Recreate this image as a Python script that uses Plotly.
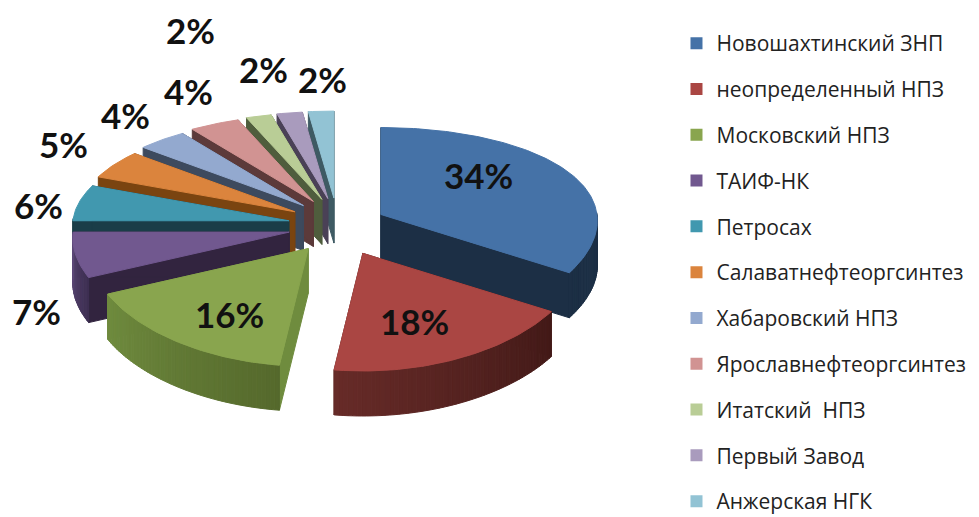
import math
import plotly.graph_objects as go

NAMES = ["Новошахтинский ЗНП", "неопределенный НПЗ", "Московский НПЗ", "ТАИФ-НК", "Петросах",
         "Салаватнефтеоргсинтез", "Хабаровский НПЗ", "Ярославнефтеоргсинтез", "Итатский  НПЗ",
         "Первый Завод", "Анжерская НГК"]
VALUES = [34, 18, 16, 7, 6, 5, 4, 4, 2, 2, 2]

TOP = ["#4572a7", "#aa4643", "#89a54e", "#71588f", "#4198af", "#db843d", "#93a9cf", "#d19392", "#b9cd96", "#a99bbd", "#92c3d4"]
CUT = ["#1c2f45", "#4f1e1b", "#6f8c3e", "#32243f", "#1a3d48", "#7a4410", "#3d4a5e", "#5c3a3a", "#4f5d3d", "#4a4156", "#3e5a63"]
OUT_A = ["#1c2f45", "#431a18", "#55692c", "#3d2f52", "#1a3d48", "#7a4410", "#3d4a5e", "#5c3a3a", "#4f5d3d", "#4a4156", "#3e5a63"]
OUT_B = ["#1c2f45", "#672b28", "#708c3f", "#5f4a7a", "#1a3d48", "#7a4410", "#3d4a5e", "#5c3a3a", "#4f5d3d", "#4a4156", "#3e5a63"]
ORDER = [10, 9, 8, 7, 6, 5, 4, 0, 3, 2, 1]
LABEL_XY = [(478, 175), (414, 321), (229, 314), (36, 311), (38, 205), (63, 144), (125, 115), (188, 91), (190, 30), (263, 69), (322, 79)]
NUDGE = {1: (5, 2), 0: (1, 2)}

CX, CY, EX, EY = 337, 226, 49, 28
A, B, PX, PY, DEPTH = 216, 100, 0.06, 0.15, 45
FIG_H = 535


def project(angle, ox, oy):
    u, v = math.sin(angle), math.cos(angle)
    return ox + A * u / (1 + PX * v), oy - B * v / (1 + PY * v)


def hexmix(c1, c2, t):
    a = [int(c1[i:i + 2], 16) for i in (1, 3, 5)]
    b = [int(c2[i:i + 2], 16) for i in (1, 3, 5)]
    return "#%02x%02x%02x" % tuple(round(p + (q - p) * t) for p, q in zip(a, b))


def poly(pts, color):
    return go.Scatter(x=[p[0] for p in pts] + [pts[0][0]], y=[p[1] for p in pts] + [pts[0][1]],
                      mode="lines", fill="toself", fillcolor=color, line=dict(color=color, width=1),
                      showlegend=False, hoverinfo="skip")


total = sum(VALUES)
bounds = [0]
for val in VALUES:
    bounds.append(bounds[-1] + val / total * 2 * math.pi)

fig = go.Figure()
for i in ORDER:
    a0, a1 = bounds[i], bounds[i + 1]
    mid = (a0 + a1) / 2
    nx, ny = NUDGE.get(i, (0, 0))
    ox, oy = CX + nx + EX * math.sin(mid), CY + ny - EY * math.cos(mid)
    n = max(3, int((a1 - a0) / 0.02))
    angles = [a0 + (a1 - a0) * k / n for k in range(n + 1)]
    down = lambda p: (p[0], p[1] + DEPTH)
    for ang in (a0, a1):
        e = project(ang, ox, oy)
        fig.add_trace(poly([(ox, oy), e, down(e), (ox, oy + DEPTH)], CUT[i]))
    for k in range(n):
        if math.cos((angles[k] + angles[k + 1]) / 2) < 0.02:
            p, q = project(angles[k], ox, oy), project(angles[k + 1], ox, oy)
            fig.add_trace(poly([p, q, down(q), down(p)], hexmix(OUT_A[i], OUT_B[i], k / n)))
    fig.add_trace(poly([(ox, oy)] + [project(a, ox, oy) for a in angles], TOP[i]))

for i, name in enumerate(NAMES):
    fig.add_trace(go.Scatter(x=[None], y=[None], mode="markers", name=name, legendgroup=name,
                             marker=dict(symbol="square", size=15, color=TOP[i]), hoverinfo="skip"))

for val, (x, y) in zip(VALUES, LABEL_XY):
    fig.add_annotation(x=x, y=y, text=f"<b>{val}%</b>", showarrow=False, xref="x", yref="y",
                       font=dict(family="Lato", size=35, color="#111111"))

fig.update_layout(
    width=979, height=FIG_H, autosize=False, margin=dict(l=0, r=0, t=0, b=0),
    paper_bgcolor="white", plot_bgcolor="white",
    xaxis=dict(range=[0, 979], visible=False, fixedrange=True),
    yaxis=dict(range=[FIG_H, 0], visible=False, fixedrange=True),
    legend=dict(x=0.691, y=0.957, xanchor="left", yanchor="top", tracegroupgap=15.5,
                font=dict(family="Open Sans", size=21, color="#222222"), bgcolor="rgba(0,0,0,0)",
                itemsizing="constant"),
)
fig.write_html("out.html", config={"displayModeBar": False},
               post_script="document.body.style.margin='0';document.body.style.overflow='hidden';")
